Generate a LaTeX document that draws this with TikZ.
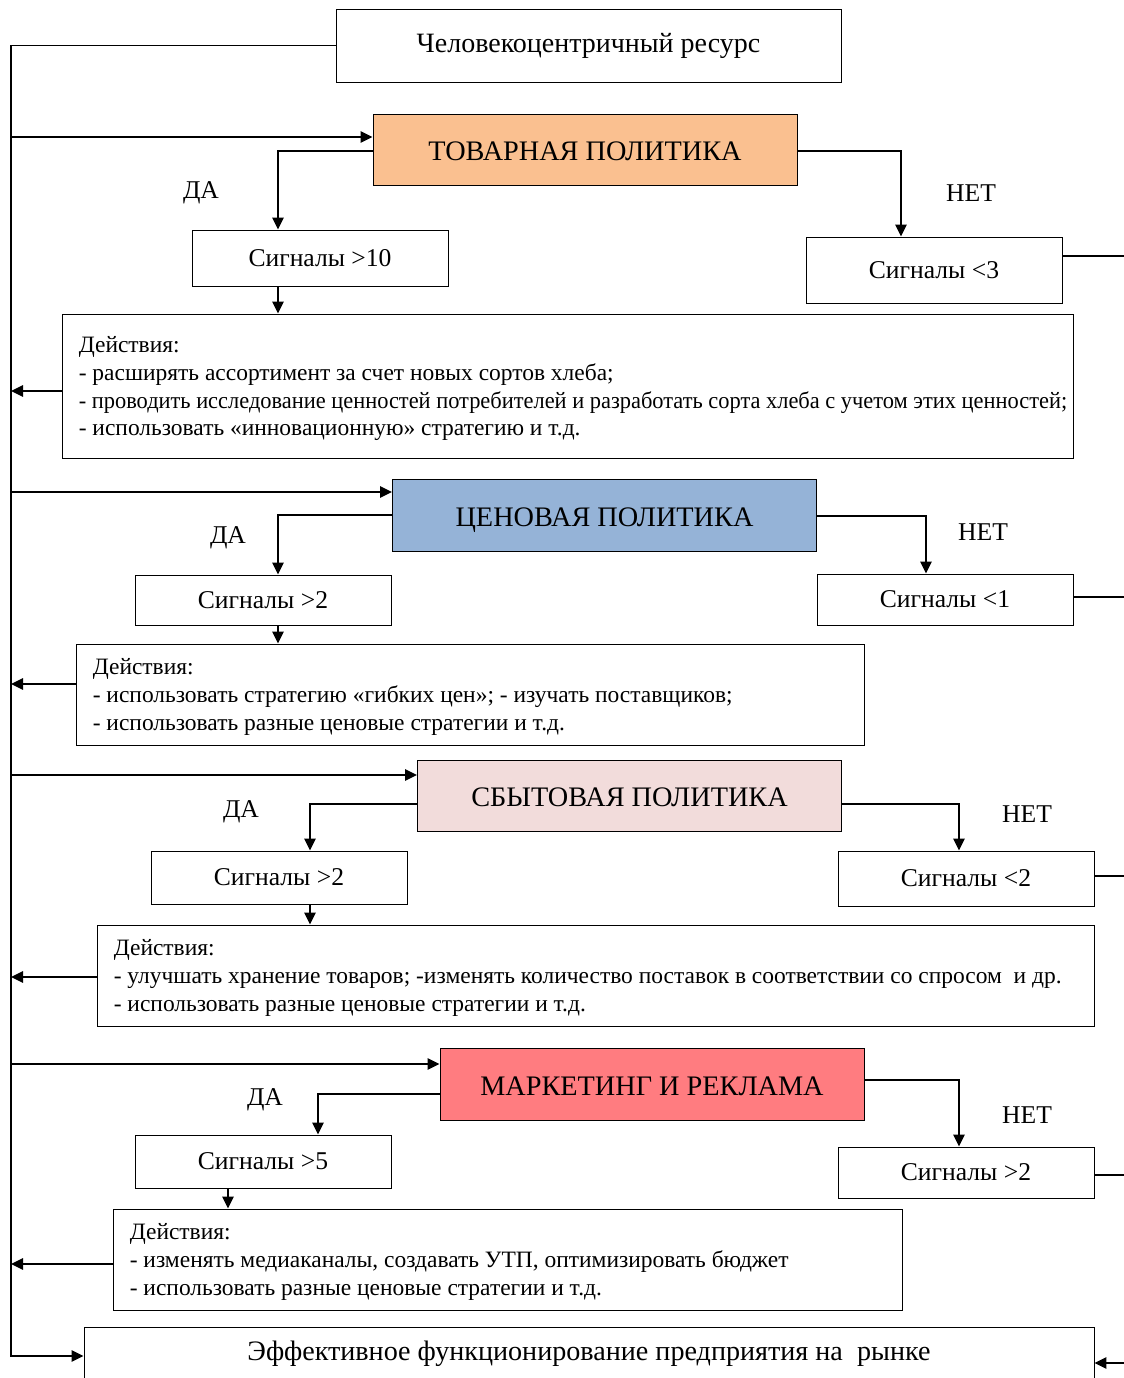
\documentclass[tikz,border=0pt]{standalone}
\usepackage{fontspec}
\setmainfont{Liberation Serif}
\usetikzlibrary{arrows.meta,positioning}

\definecolor{tovfill}{HTML}{FAC090}
\definecolor{cenfill}{HTML}{95B3D7}
\definecolor{sbytfill}{HTML}{F2DCDB}
\definecolor{markfill}{HTML}{FF7C80}

\tikzset{
  box/.style={draw, line width=0.7pt, inner sep=0pt, align=center},
  head/.style={box, minimum width=318pt, minimum height=53.5pt, text height=20.2pt, text depth=4pt, font=\fontsize{21.2}{25}\selectfont},
  sig/.style={box, minimum width=192pt, font=\fontsize{19.2}{23}\selectfont},
  act/.style={draw, line width=0.7pt, inner sep=0pt},
  acttxt/.style={inner sep=0pt, align=left, font=\fontsize{17.6}{20.8}\selectfont},
  lbl/.style={inner sep=0pt, font=\fontsize{19.2}{23}\selectfont},
  wire/.style={line width=1.4pt},
  arr/.style={wire, -{Triangle[length=9pt,width=8.5pt]}},
}

\begin{document}
\begin{tikzpicture}[x=0.75pt, y=-0.75pt, line cap=butt, line join=miter]
  \useasboundingbox (0,0) rectangle (1124,1378);
  \clip (0,0) rectangle (1124,1378);

  % blocks
  \node[box, minimum width=378.75pt, minimum height=54.75pt, font=\fontsize{21}{25}\selectfont] (res) at (588.5,45.5) {Человекоцентричный ресурс};

  \node[head, fill=tovfill] (tov) at (585,150) {ТОВАРНАЯ ПОЛИТИКА};
  \node[sig, minimum height=42pt] (sa) at (320,258) {Сигналы >10};
  \node[sig, minimum height=49.5pt] (na) at (934,270) {Сигналы <3};
  \node[act, minimum width=758.25pt, minimum height=108pt] (aa) at (567.5,386) {};
  \node[acttxt, right=12.75pt of aa.west, yshift=-2pt] (aat) {Действия:\\
    - расширять ассортимент за счет новых сортов хлеба;\\
    \scalebox{0.955}[1]{- проводить исследование ценностей потребителей и разработать сорта хлеба с учетом этих ценностей;}\\
    - использовать «инновационную» стратегию и т.д.};

  \node[head, fill=cenfill] (cen) at (604.5,515.5) {ЦЕНОВАЯ ПОЛИТИКА};
  \node[sig, minimum height=37.5pt] (sb) at (263,600) {Сигналы >2};
  \node[sig, minimum height=38.25pt] (nb) at (945,599.5) {Сигналы <1};
  \node[act, minimum width=591pt, minimum height=75.75pt] (ab) at (470,694.5) {};
  \node[acttxt, right=12.75pt of ab.west, yshift=-2pt] (abt) {Действия:\\
    - использовать стратегию «гибких цен»; - изучать поставщиков;\\
    - использовать разные ценовые стратегии и т.д.};

  \node[head, fill=sbytfill] (sbyt) at (629.5,796) {СБЫТОВАЯ ПОЛИТИКА};
  \node[sig, minimum height=39.75pt] (sc) at (279,877.5) {Сигналы >2};
  \node[sig, minimum height=41.25pt] (nc) at (966,878.5) {Сигналы <2};
  \node[act, minimum width=747.75pt, minimum height=75.75pt] (ac) at (595.5,975.5) {};
  \node[acttxt, right=12.75pt of ac.west, yshift=-2pt] (act) {Действия:\\
    - улучшать хранение товаров; -изменять количество поставок в соответствии со спросом~ и др.\\
    - использовать разные ценовые стратегии и т.д.};

  \node[head, fill=markfill] (mark) at (652,1084.5) {МАРКЕТИНГ И РЕКЛАМА};
  \node[sig, minimum height=39.75pt] (sd) at (263,1161.5) {Сигналы >5};
  \node[sig, minimum height=38.25pt] (nd) at (966,1172.5) {Сигналы >2};
  \node[act, minimum width=591.75pt, minimum height=75.75pt] (ad) at (507.5,1259.5) {};
  \node[acttxt, right=12.75pt of ad.west, yshift=-2pt] (adt) {Действия:\\
    - изменять медиаканалы, создавать УТП, оптимизировать бюджет\\
    - использовать разные ценовые стратегии и т.д.};

  \node[box, minimum width=757.5pt, minimum height=40pt, font=\fontsize{21.1}{25}\selectfont] (fin) at (589,1354) {Эффективное функционирование предприятия на~ рынке};

  % yes / no labels
  \node[lbl] (yes1) at (201,193) {ДА};
  \node[lbl] (no1) at (971,193) {НЕТ};
  \node[lbl] (yes2) at (228,538) {ДА};
  \node[lbl] (no2) at (983,532) {НЕТ};
  \node[lbl] (yes3) at (241,812) {ДА};
  \node[lbl] (no3) at (1027,814) {НЕТ};
  \node[lbl] (yes4) at (265,1100) {ДА};
  \node[lbl] (no4) at (1027,1115) {НЕТ};

  % helper points
  \coordinate (spine) at (11,0);
  \coordinate (rim) at (1124,1363);
  \coordinate (in1) at (0,137);  \coordinate (da1) at (278,151);  \coordinate (ne1) at (901,151);  \coordinate (dn1) at (278,0); \coordinate (ok1) at (0,391);  \coordinate (rt1) at (0,256);
  \coordinate (in2) at (0,492);  \coordinate (da2) at (278,515);  \coordinate (ne2) at (926,516);  \coordinate (dn2) at (278,0); \coordinate (ok2) at (0,684);  \coordinate (rt2) at (0,597);
  \coordinate (in3) at (0,775);  \coordinate (da3) at (310,804);  \coordinate (ne3) at (959,804);  \coordinate (dn3) at (310,0); \coordinate (ok3) at (0,977);  \coordinate (rt3) at (0,876);
  \coordinate (in4) at (0,1064); \coordinate (da4) at (318,1094); \coordinate (ne4) at (959,1080); \coordinate (dn4) at (228,0); \coordinate (ok4) at (0,1264); \coordinate (rt4) at (0,1175);
  \coordinate (bot) at (0,1356);

  % connectors
  \draw[arr] (res.west) -| (spine |- bot) -- (fin.west |- bot);
  \foreach \h/\s/\n/\a/\k in {tov/sa/na/aa/1, cen/sb/nb/ab/2, sbyt/sc/nc/ac/3, mark/sd/nd/ad/4}{
    \draw[arr] (spine |- in\k) -- (\h.west |- in\k);
    \draw[arr] (\h.west |- da\k) -| (da\k |- \s.north);
    \draw[arr] (\h.east |- ne\k) -| (ne\k |- \n.north);
    \draw[arr] (dn\k |- \s.south) -- (dn\k |- \a.north);
    \draw[arr] (\a.west |- ok\k) -- (spine |- ok\k);
    \draw[wire] (\n.east |- rt\k) -- (rim |- rt\k);
  }
  \draw[arr] (rim) -- (rim -| fin.east);
\end{tikzpicture}
\end{document}
